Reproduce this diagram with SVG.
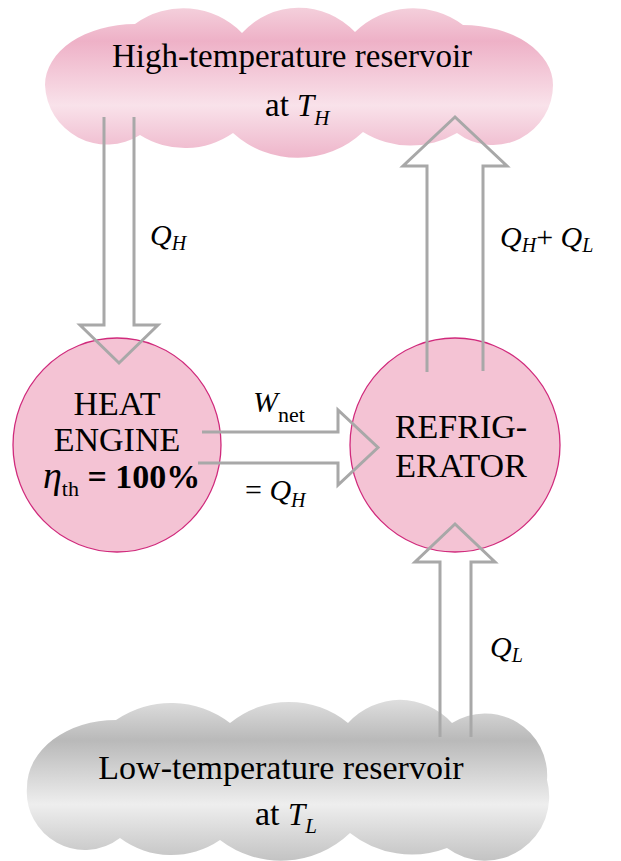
<svg xmlns="http://www.w3.org/2000/svg" width="621" height="861" viewBox="0 0 621 861">
<style>
  text { font-family: "Liberation Serif", "DejaVu Serif", "Times New Roman", Times, serif; fill: #000; }
  .it { font-style: italic; }
  .node { fill: #f4c3d4; stroke: #d02a7c; stroke-width: 1.3; }
  .arrow { fill: none; stroke: #a8a8a8; stroke-width: 3; stroke-linejoin: miter; }
</style>
<defs>
  <linearGradient id="gHot" gradientUnits="userSpaceOnUse" x1="0" y1="8" x2="0" y2="158">
    <stop offset="0" stop-color="#f4cfdb"/>
    <stop offset="0.22" stop-color="#eeb1c7"/>
    <stop offset="0.65" stop-color="#f9e2ea"/>
    <stop offset="1" stop-color="#eeb5ca"/>
  </linearGradient>
  <linearGradient id="gCold" gradientUnits="userSpaceOnUse" x1="0" y1="700" x2="0" y2="861">
    <stop offset="0" stop-color="#dedede"/>
    <stop offset="0.25" stop-color="#b9b9b9"/>
    <stop offset="0.65" stop-color="#eeeeee"/>
    <stop offset="1" stop-color="#c3c3c3"/>
  </linearGradient>
</defs>

<g id="high-reservoir">
  <path fill="url(#gHot)" d="M 45 85 A 90 61 0 0 1 135 24 A 82 82 0 0 1 242 33 A 77 77 0 0 1 355 32 A 83 83 0 0 1 463 25 A 90 60 0 0 1 553 85 A 60 60 0 0 1 457 133 A 91 91 0 0 1 363 132 A 96 96 0 0 1 233 133 A 84 84 0 0 1 140 135 A 62 62 0 0 1 45 85 Z"/>
  <text font-family="Liberation Serif, serif" x="292" y="67" font-size="33" text-anchor="middle">High-temperature reservoir</text>
  <text font-family="Liberation Serif, serif" x="265" y="116" font-size="33">at <tspan class="it" font-size="31">T</tspan><tspan class="it" font-size="21" dy="9">H</tspan></text>
</g>

<g id="low-reservoir">
  <path fill="url(#gCold)" d="M 27 787 A 89 67 0 0 1 116 720 A 97 97 0 0 1 230 723 A 93 93 0 0 1 348 723 A 70 70 0 0 1 452 723 A 62 62 0 0 1 547 780 A 64 64 0 0 1 447 848 A 99 99 0 0 1 350 833 A 100 100 0 0 1 220 840 A 86 86 0 0 1 120 838 A 58 58 0 0 1 27 787 Z"/>
  <text font-family="Liberation Serif, serif" x="281" y="779" font-size="34" text-anchor="middle">Low-temperature reservoir</text>
  <text font-family="Liberation Serif, serif" x="255" y="825" font-size="34">at <tspan class="it" font-size="31">T</tspan><tspan class="it" font-size="21" dy="8">L</tspan></text>
</g>

<g id="heat-engine">
  <ellipse class="node" cx="117" cy="445" rx="104" ry="107"/>
  <text font-family="Liberation Serif, serif" x="117" y="415" font-size="34" text-anchor="middle">HEAT</text>
  <text font-family="Liberation Serif, serif" x="117" y="451" font-size="34" text-anchor="middle">ENGINE</text>
  <text font-family="Liberation Serif, serif" x="43" y="488" font-size="34"><tspan class="it" font-size="38">η</tspan><tspan font-size="22" dy="8">th</tspan><tspan font-weight="bold" dy="-8"> = 100%</tspan></text>
</g>

<g id="refrigerator">
  <ellipse class="node" cx="455" cy="445" rx="105" ry="107"/>
  <text font-family="Liberation Serif, serif" x="461" y="438" font-size="34" text-anchor="middle">REFRIG-</text>
  <text font-family="Liberation Serif, serif" x="461" y="477" font-size="34" text-anchor="middle">ERATOR</text>
</g>

<g id="connectors">
  <polyline class="arrow" points="104,117 104,325 80,325 119,363 158,325 134,325 134,117"/>
  <polyline class="arrow" points="427,372 427,166 403,166 455,117 507,166 483,166 483,371"/>
  <polyline class="arrow" points="202,432 338,432 338,410 378,447.5 338,485 338,463 198,463"/>
  <polyline class="arrow" points="440,737 440,562 415,562 455,524 495,562 471,562 471,737"/>
  <text font-family="Liberation Serif, serif" class="it" x="150" y="245" font-size="30">Q<tspan font-size="20" dy="5">H</tspan></text>
  <text font-family="Liberation Serif, serif" x="500" y="247" font-size="30"><tspan class="it">Q</tspan><tspan class="it" font-size="20" dy="5">H</tspan><tspan dy="-5">+ </tspan><tspan class="it">Q</tspan><tspan class="it" font-size="20" dy="5">L</tspan></text>
  <text font-family="Liberation Serif, serif" x="253" y="412" font-size="30"><tspan class="it">W</tspan><tspan font-size="22" dy="10">net</tspan></text>
  <text font-family="Liberation Serif, serif" x="245" y="500" font-size="30">= <tspan class="it">Q</tspan><tspan class="it" font-size="20" dy="7">H</tspan></text>
  <text font-family="Liberation Serif, serif" class="it" x="490" y="657" font-size="30">Q<tspan font-size="20" dy="5">L</tspan></text>
</g>
</svg>
